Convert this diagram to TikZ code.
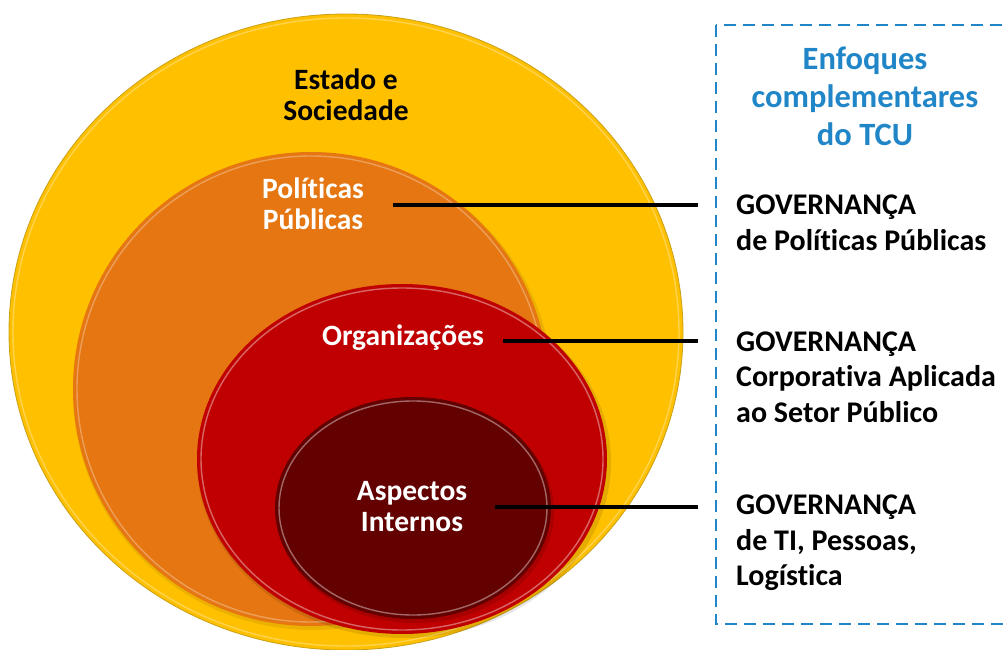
\documentclass[tikz,border=0pt]{standalone}
\usepackage{fontspec}
\setmainfont{Carlito}[Ligatures={NoCommon}]
\definecolor{cYellow}{RGB}{255,192,0}
\definecolor{cYellowEdge}{RGB}{200,160,20}
\definecolor{cOrange}{RGB}{229,118,17}
\definecolor{cRed}{RGB}{192,0,0}
\definecolor{cDark}{RGB}{99,0,0}
\definecolor{cBlue}{RGB}{32,134,200}
\begin{document}
\begin{tikzpicture}[x=1pt,y=-1pt,
  lbl/.style={font=\bfseries\fontsize{29.5}{31}\selectfont, align=center, inner sep=0pt},
  gov/.style={font=\bfseries\fontsize{30}{35.5}\selectfont, align=left, anchor=west, inner sep=0pt, text=black},
  ttl/.style={font=\bfseries\fontsize{32.5}{38}\selectfont, align=center, inner sep=0pt, text=cBlue},
  conn/.style={line width=3.6pt, black},
  rim/.style={white, opacity=0.3, line width=1.4pt},
  edge/.style={line width=0.8pt}
]
\clip (0,0) rectangle (1005,650);
\fill[white] (0,0) rectangle (1005,650);

% nested ellipses
\fill[cYellow] (346,332) ellipse [x radius=337, y radius=318];
\draw[edge, cYellowEdge] (346,332) ellipse [x radius=337, y radius=318];
\draw[rim] (346,332) ellipse [x radius=333, y radius=314];

\fill[black, opacity=0.08] (313,392) ellipse [x radius=240, y radius=238];
\fill[cOrange] (311,389) ellipse [x radius=238, y radius=237];
\draw[rim] (311,389) ellipse [x radius=234, y radius=233];

\fill[black, opacity=0.10] (404,462) ellipse [x radius=207, y radius=176];
\fill[cRed] (402,459) ellipse [x radius=205, y radius=175];
\draw[rim, opacity=0.4] (402,459) ellipse [x radius=201, y radius=171];

\fill[black, opacity=0.12] (415,511) ellipse [x radius=139, y radius=112];
\fill[cDark] (413,508) ellipse [x radius=138, y radius=111];
\draw[rim, opacity=0.4] (413,508) ellipse [x radius=134, y radius=107];

% circle labels
\node[lbl, text=black] (estado) at (346,95) {Estado e\\Sociedade};
\node[lbl, text=white] (politicas) at (313,204) {Políticas\\Públicas};
\node[lbl, text=white] (organizacoes) at (403,338) {Organizações};
\node[lbl, text=white] (aspectos) at (412,507) {Aspectos\\Internos};

% dashed box
\draw[cBlue, line width=2.6pt, dash pattern=on 12pt off 7pt] (716,25) rectangle (1020,624);
\node[ttl] (titulo) at (865,96) {Enfoques\\complementares\\do TCU};

% right texts
\node[gov] (gov1) at (736,223) {GOVERNANÇA\\de Políticas Públicas};
\node[gov] (gov2) at (736,377) {GOVERNANÇA\\Corporativa Aplicada\\ao Setor Público};
\node[gov] (gov3) at (736,543) {GOVERNANÇA\\de TI, Pessoas,\\Logística};

% connectors
\coordinate (s1) at (393,205);
\coordinate (e1) at (698,205);
\coordinate (s2) at (503,341);
\coordinate (e2) at (698,341);
\coordinate (s3) at (495,507);
\coordinate (e3) at (698,507);
\draw[conn] (s1) -- (e1);
\draw[conn] (s2) -- (e2);
\draw[conn] (s3) -- (e3);
\end{tikzpicture}
\end{document}
